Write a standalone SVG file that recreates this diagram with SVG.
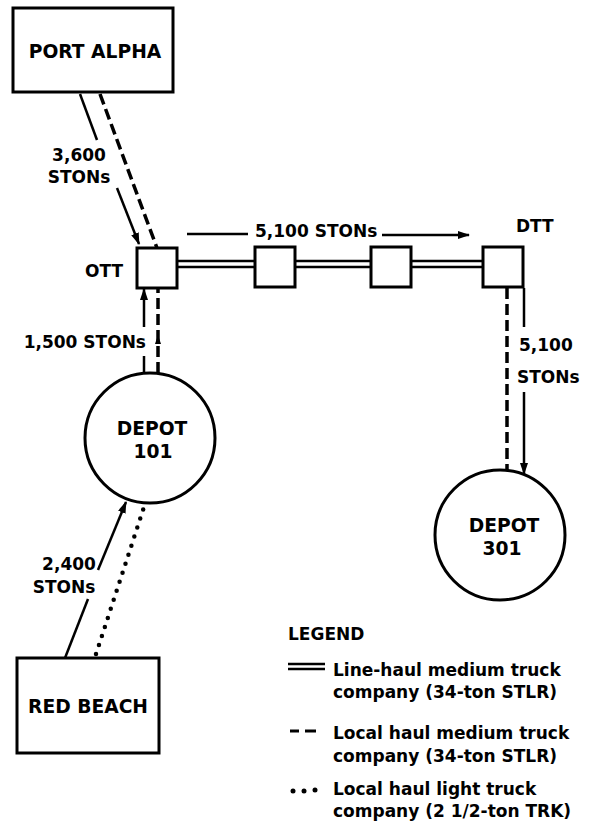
<svg xmlns="http://www.w3.org/2000/svg" width="590" height="822" viewBox="0 0 590 822">
<style>
text{font-family:"DejaVu Sans","Liberation Sans",sans-serif;font-weight:bold;font-size:17px;fill:#000}
.c{text-anchor:middle}
.e{text-anchor:end}
.big{font-size:18.7px}
.box{fill:#fff;stroke:#000;stroke-width:3}
.solid{fill:none;stroke:#000;stroke-width:2.5}
.dash{fill:none;stroke:#000;stroke-width:3.5;stroke-dasharray:11,5}
.dot{fill:none;stroke:#000;stroke-width:4.5;stroke-linecap:round;stroke-dasharray:0,9.5}
.dbl{fill:none;stroke:#000;stroke-width:2.5}
</style>
<defs>
<marker id="ah" markerUnits="userSpaceOnUse" markerWidth="12" markerHeight="8" refX="11" refY="4" orient="auto">
<path d="M0,0 L12,4 L0,8 z" fill="#000"/>
</marker>
</defs>
<g id="connectors">
<line class="solid" x1="80" y1="94" x2="97" y2="140"/>
<line class="solid" x1="117" y1="188" x2="139" y2="244" marker-end="url(#ah)"/>
<line class="dash" x1="100" y1="94" x2="157" y2="248"/>
<line class="dbl" x1="177" y1="261" x2="255" y2="261"/>
<line class="dbl" x1="177" y1="267" x2="255" y2="267"/>
<line class="dbl" x1="295" y1="261" x2="371" y2="261"/>
<line class="dbl" x1="295" y1="267" x2="371" y2="267"/>
<line class="dbl" x1="411" y1="261" x2="483" y2="261"/>
<line class="dbl" x1="411" y1="267" x2="483" y2="267"/>
<line class="solid" x1="187" y1="234" x2="248" y2="234"/>
<line class="solid" x1="382" y1="235" x2="469" y2="235" marker-end="url(#ah)"/>
<line class="dash" x1="507" y1="288" x2="507" y2="470"/>
<line class="solid" x1="524" y1="288" x2="524" y2="327"/>
<line class="solid" x1="524" y1="392" x2="524" y2="474" marker-end="url(#ah)"/>
<line class="solid" x1="144" y1="373" x2="144" y2="356"/>
<line class="solid" x1="144" y1="327" x2="144" y2="289" marker-end="url(#ah)"/>
<line class="dash" x1="158" y1="373" x2="158" y2="289"/>
<path d="M158,335 L161,344 L155,344 z" fill="#000"/>
<line class="solid" x1="65" y1="658" x2="88" y2="599"/>
<line class="solid" x1="98" y1="570" x2="126" y2="502" marker-end="url(#ah)"/>
<line class="dot" x1="96" y1="654" x2="144" y2="507"/>
</g>
<g id="port-alpha">
<rect class="box" x="13" y="8" width="160" height="84"/>
<text class="c big" x="95" y="58">PORT ALPHA</text>
</g>
<g id="ott">
<rect class="box" x="137" y="248" width="40" height="40"/>
<text class="e" x="123" y="277">OTT</text>
</g>
<g id="node2">
<rect class="box" x="255" y="247" width="40" height="40"/>
</g>
<g id="node3">
<rect class="box" x="371" y="247" width="40" height="40"/>
</g>
<g id="dtt">
<rect class="box" x="483" y="247" width="40" height="40"/>
<text x="516" y="232">DTT</text>
</g>
<g id="depot101">
<circle class="box" cx="150" cy="438" r="65"/>
<text class="c big" x="152" y="435">DEPOT</text>
<text class="c big" x="153" y="458">101</text>
</g>
<g id="depot301">
<circle class="box" cx="500" cy="535" r="65"/>
<text class="c big" x="504" y="532">DEPOT</text>
<text class="c big" x="502" y="555">301</text>
</g>
<g id="red-beach">
<rect class="box" x="17" y="658" width="142" height="95"/>
<text class="c big" x="88" y="713">RED BEACH</text>
</g>
<g id="labels">
<text class="c" x="79" y="161">3,600</text>
<text class="c" x="79" y="183">STONs</text>
<text x="255" y="237">5,100 STONs</text>
<text x="519" y="351">5,100</text>
<text x="517" y="383">STONs</text>
<text class="e" x="146" y="348">1,500 STONs</text>
<text class="c" x="69" y="570">2,400</text>
<text class="c" x="64" y="593">STONs</text>
</g>
<g id="legend">
<text x="288" y="640">LEGEND</text>
<line class="dbl" x1="288" y1="664" x2="325" y2="664"/>
<line class="dbl" x1="288" y1="669" x2="325" y2="669"/>
<text x="333" y="676">Line-haul medium truck</text>
<text x="333" y="698">company (34-ton STLR)</text>
<line x1="290" y1="731" x2="299" y2="731" stroke="#000" stroke-width="3"/>
<line x1="305" y1="731" x2="316" y2="731" stroke="#000" stroke-width="3"/>
<text x="333" y="739">Local haul medium truck</text>
<text x="333" y="762">company (34-ton STLR)</text>
<circle cx="293" cy="791" r="2.5" fill="#000"/>
<circle cx="304" cy="791" r="2.5" fill="#000"/>
<circle cx="315" cy="790" r="2.5" fill="#000"/>
<text x="333" y="795">Local haul light truck</text>
<text x="333" y="817">company (2 1/2-ton TRK)</text>
</g>
</svg>
